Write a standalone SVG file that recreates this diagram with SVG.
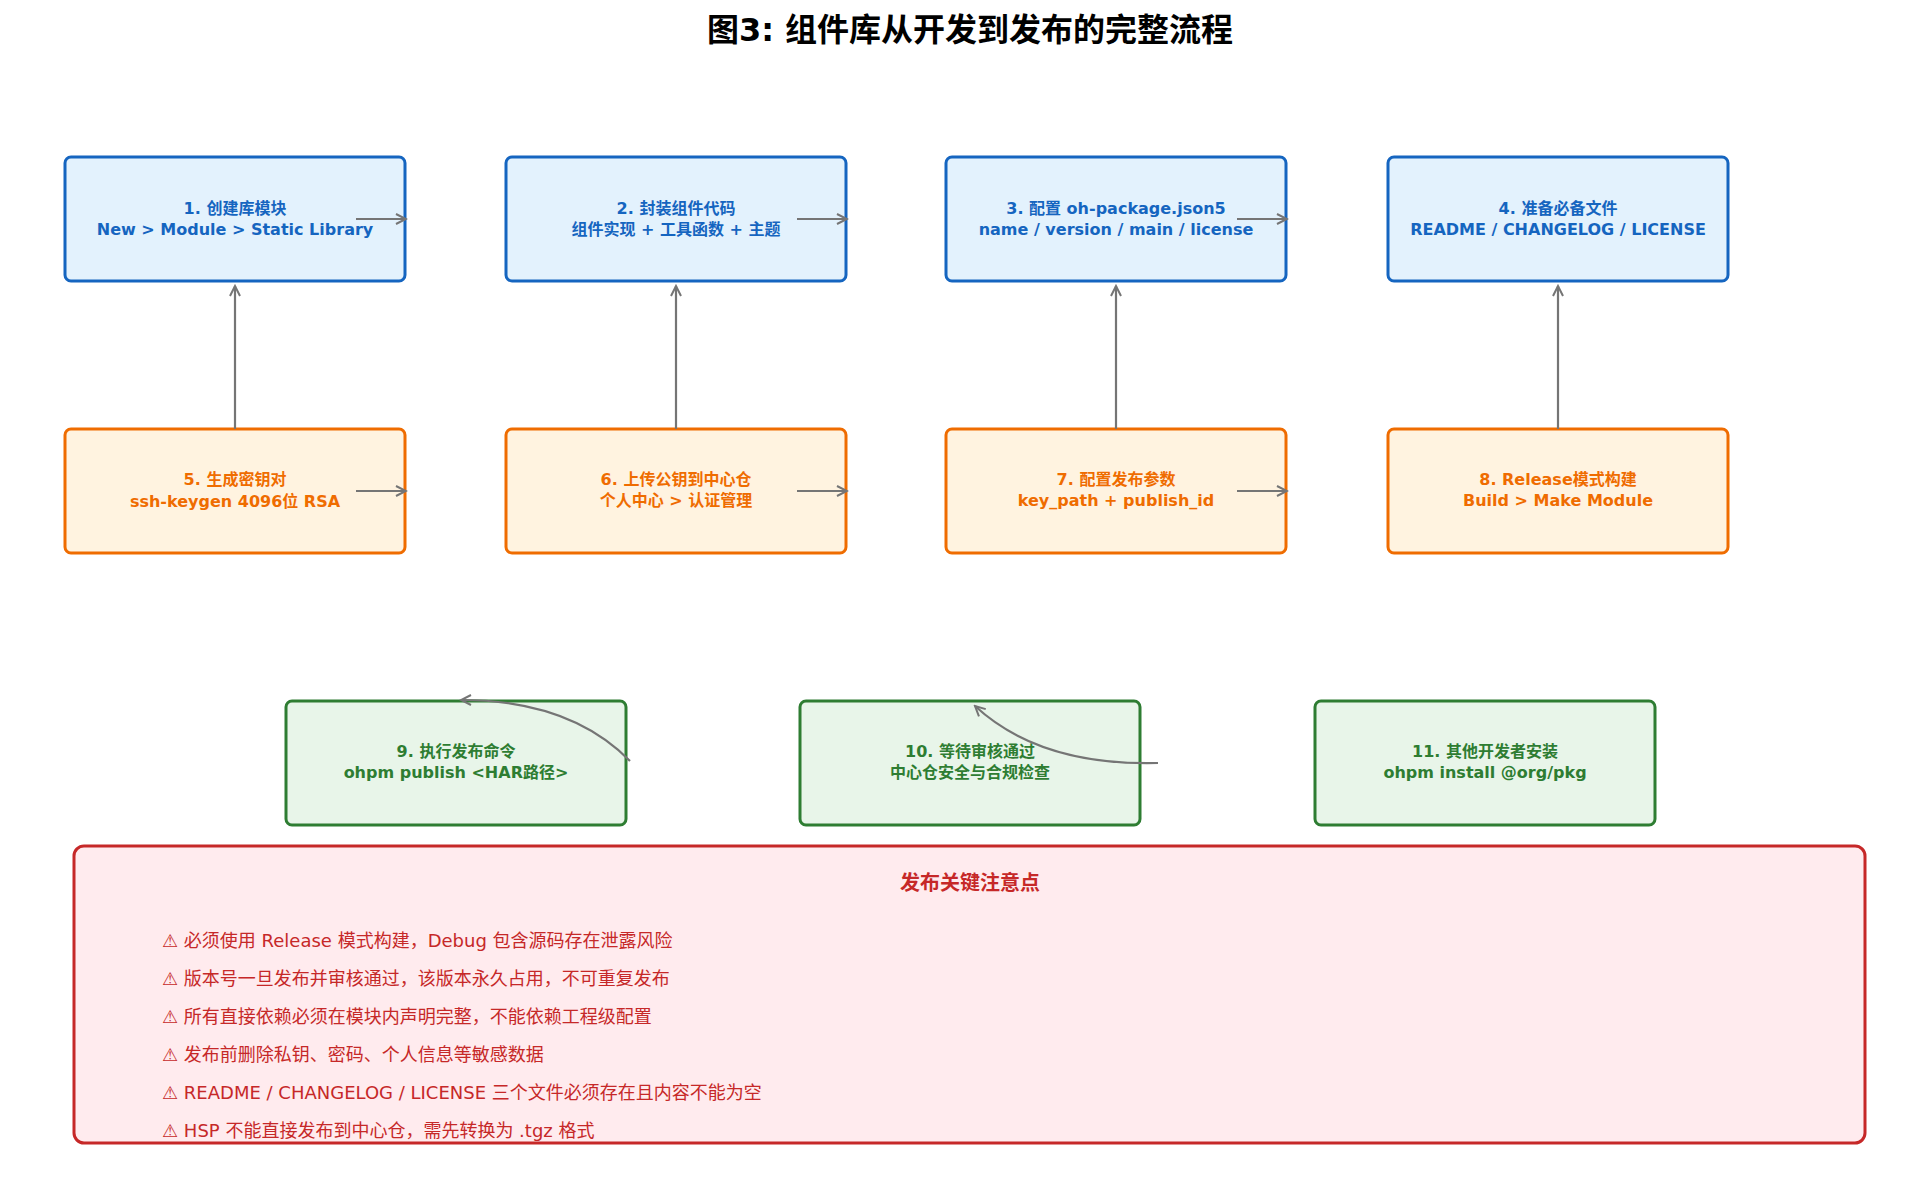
<svg xmlns="http://www.w3.org/2000/svg" width="1930" height="1180" viewBox="0 0 1930 1180">
<defs>
<marker id="ah" markerWidth="14" markerHeight="14" refX="12" refY="7" orient="auto" markerUnits="userSpaceOnUse">
<path d="M2,2 L12,7 L2,12" fill="none" stroke="#757575" stroke-width="2"/>
</marker>
<style>
text{font-family:"DejaVu Sans","Noto Sans CJK SC",sans-serif;text-anchor:middle;dominant-baseline:central}
.n{font-size:16px;font-weight:bold}
.b rect{fill:#e3f2fd;stroke:#1565c0}.b text{fill:#1565c0}
.o rect{fill:#fff3e0;stroke:#ef6c00}.o text{fill:#ef6c00}
.g rect{fill:#e8f5e9;stroke:#2e7d32}.g text{fill:#2e7d32}
rect{stroke-width:3}
.c path,.c line{stroke:#757575;stroke-width:2.2;fill:none;marker-end:url(#ah)}
.w{fill:#c62828;font-size:18px;text-anchor:start}
</style>
</defs>
<rect width="1930" height="1180" fill="#fff" style="stroke:none"/>
<text x="970" y="30" style="font-size:32px;font-weight:bold" fill="#000">图3: 组件库从开发到发布的完整流程</text>
<g id="n1" class="b"><rect x="65" y="157" width="340" height="124" rx="6"/><text class="n" x="235" y="208">1. 创建库模块</text><text class="n" x="235" y="229">New &gt; Module &gt; Static Library</text></g>
<g id="n2" class="b"><rect x="506" y="157" width="340" height="124" rx="6"/><text class="n" x="676" y="208">2. 封装组件代码</text><text class="n" x="676" y="229">组件实现 + 工具函数 + 主题</text></g>
<g id="n3" class="b"><rect x="946" y="157" width="340" height="124" rx="6"/><text class="n" x="1116" y="208">3. 配置 oh-package.json5</text><text class="n" x="1116" y="229">name / version / main / license</text></g>
<g id="n4" class="b"><rect x="1388" y="157" width="340" height="124" rx="6"/><text class="n" x="1558" y="208">4. 准备必备文件</text><text class="n" x="1558" y="229">README / CHANGELOG / LICENSE</text></g>
<g id="n5" class="o"><rect x="65" y="429" width="340" height="124" rx="6"/><text class="n" x="235" y="479">5. 生成密钥对</text><text class="n" x="235" y="501">ssh-keygen 4096位 RSA</text></g>
<g id="n6" class="o"><rect x="506" y="429" width="340" height="124" rx="6"/><text class="n" x="676" y="479">6. 上传公钥到中心仓</text><text class="n" x="676" y="500">个人中心 &gt; 认证管理</text></g>
<g id="n7" class="o"><rect x="946" y="429" width="340" height="124" rx="6"/><text class="n" x="1116" y="479">7. 配置发布参数</text><text class="n" x="1116" y="500">key_path + publish_id</text></g>
<g id="n8" class="o"><rect x="1388" y="429" width="340" height="124" rx="6"/><text class="n" x="1558" y="479">8. Release模式构建</text><text class="n" x="1558" y="500">Build &gt; Make Module</text></g>
<g id="n9" class="g"><rect x="286" y="701" width="340" height="124" rx="6"/><text class="n" x="456" y="751">9. 执行发布命令</text><text class="n" x="456" y="772">ohpm publish &lt;HAR路径&gt;</text></g>
<g id="n10" class="g"><rect x="800" y="701" width="340" height="124" rx="6"/><text class="n" x="970" y="751">10. 等待审核通过</text><text class="n" x="970" y="772">中心仓安全与合规检查</text></g>
<g id="n11" class="g"><rect x="1315" y="701" width="340" height="124" rx="6"/><text class="n" x="1485" y="751">11. 其他开发者安装</text><text class="n" x="1485" y="772">ohpm install @org/pkg</text></g>
<g id="connectors" class="c">
<line x1="356" y1="219" x2="406" y2="219"/>
<line x1="797" y1="219" x2="847" y2="219"/>
<line x1="1237" y1="219" x2="1287" y2="219"/>
<line x1="356" y1="491" x2="406" y2="491"/>
<line x1="797" y1="491" x2="847" y2="491"/>
<line x1="1237" y1="491" x2="1287" y2="491"/>
<line x1="235" y1="429" x2="235" y2="286"/>
<line x1="676" y1="429" x2="676" y2="286"/>
<line x1="1116" y1="429" x2="1116" y2="286"/>
<line x1="1558" y1="429" x2="1558" y2="286"/>
<path d="M630,761 Q570,700 461,700"/>
<path d="M1158,763 Q1040,766 975,706"/>
</g>
<g id="notes">
<rect x="74" y="846" width="1791" height="297" rx="10" fill="#ffebee" stroke="#c62828"/>
<text x="970" y="883" style="font-size:20px;font-weight:bold" fill="#c62828">发布关键注意点</text>
<text class="w" x="162" y="940">⚠ 必须使用 Release 模式构建，Debug 包含源码存在泄露风险</text>
<text class="w" x="162" y="978">⚠ 版本号一旦发布并审核通过，该版本永久占用，不可重复发布</text>
<text class="w" x="162" y="1016">⚠ 所有直接依赖必须在模块内声明完整，不能依赖工程级配置</text>
<text class="w" x="162" y="1054">⚠ 发布前删除私钥、密码、个人信息等敏感数据</text>
<text class="w" x="162" y="1092">⚠ README / CHANGELOG / LICENSE 三个文件必须存在且内容不能为空</text>
<text class="w" x="162" y="1130">⚠ HSP 不能直接发布到中心仓，需先转换为 .tgz 格式</text>
</g>
</svg>
